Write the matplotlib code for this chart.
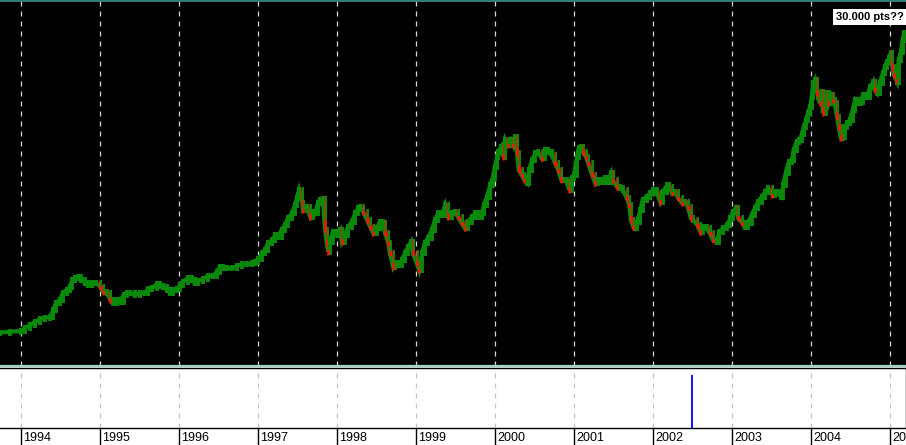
import numpy as np
import matplotlib
matplotlib.use("Agg")
import matplotlib.pyplot as plt
import matplotlib.transforms as mtransforms

# index closes (decimal year, points)
dates = [
    1993.73, 1993.86, 1994.00, 1994.05, 1994.11, 1994.18, 1994.24, 1994.30, 1994.37, 1994.41,
    1994.44, 1994.49, 1994.53, 1994.58, 1994.62, 1994.65, 1994.68, 1994.72, 1994.76, 1994.81,
    1994.85, 1994.90, 1994.95, 1995.00, 1995.04, 1995.09, 1995.13, 1995.16, 1995.22, 1995.25,
    1995.30, 1995.34, 1995.38, 1995.44, 1995.51, 1995.57, 1995.61, 1995.66, 1995.72, 1995.76,
    1995.80, 1995.85, 1995.89, 1995.92, 1995.98, 1996.01, 1996.05, 1996.11, 1996.16, 1996.20,
    1996.24, 1996.30, 1996.37, 1996.43, 1996.48, 1996.52, 1996.56, 1996.61, 1996.67, 1996.73,
    1996.80, 1996.86, 1996.92, 1996.96, 1997.00, 1997.05, 1997.09, 1997.13, 1997.18, 1997.22,
    1997.25, 1997.30, 1997.34, 1997.38, 1997.43, 1997.47, 1997.49, 1997.52, 1997.56, 1997.57,
    1997.62, 1997.66, 1997.70, 1997.72, 1997.76, 1997.78, 1997.82, 1997.85, 1997.87, 1997.89,
    1997.91, 1997.95, 1998.00, 1998.04, 1998.06, 1998.10, 1998.14, 1998.19, 1998.23, 1998.27,
    1998.29, 1998.33, 1998.38, 1998.42, 1998.46, 1998.51, 1998.54, 1998.58, 1998.61, 1998.65,
    1998.67, 1998.71, 1998.73, 1998.77, 1998.82, 1998.86, 1998.90, 1998.94, 1998.96, 1999.01,
    1999.04, 1999.08, 1999.11, 1999.15, 1999.20, 1999.24, 1999.28, 1999.33, 1999.37, 1999.41,
    1999.46, 1999.49, 1999.53, 1999.58, 1999.62, 1999.66, 1999.71, 1999.75, 1999.78, 1999.84,
    1999.86, 1999.90, 1999.94, 1999.97, 2000.00, 2000.03, 2000.04, 2000.08, 2000.10, 2000.13,
    2000.16, 2000.20, 2000.23, 2000.25, 2000.28, 2000.30, 2000.34, 2000.37, 2000.41, 2000.43,
    2000.47, 2000.51, 2000.54, 2000.59, 2000.63, 2000.67, 2000.72, 2000.76, 2000.80, 2000.84,
    2000.86, 2000.91, 2000.94, 2000.97, 2001.00, 2001.04, 2001.06, 2001.09, 2001.11, 2001.15,
    2001.18, 2001.23, 2001.27, 2001.30, 2001.35, 2001.39, 2001.43, 2001.47, 2001.49, 2001.54,
    2001.58, 2001.62, 2001.67, 2001.70, 2001.72, 2001.75, 2001.77, 2001.80, 2001.84, 2001.87,
    2001.92, 2001.96, 2002.00, 2002.05, 2002.09, 2002.13, 2002.18, 2002.20, 2002.24, 2002.28,
    2002.32, 2002.37, 2002.41, 2002.44, 2002.48, 2002.51, 2002.56, 2002.60, 2002.63, 2002.68,
    2002.72, 2002.76, 2002.81, 2002.84, 2002.89, 2002.94, 2002.98, 2003.01, 2003.05, 2003.08,
    2003.13, 2003.16, 2003.20, 2003.25, 2003.29, 2003.33, 2003.38, 2003.42, 2003.46, 2003.51,
    2003.54, 2003.58, 2003.62, 2003.65, 2003.68, 2003.72, 2003.76, 2003.78, 2003.82, 2003.85,
    2003.89, 2003.91, 2003.94, 2003.96, 2003.99, 2004.01, 2004.03, 2004.05, 2004.08, 2004.09,
    2004.11, 2004.14, 2004.15, 2004.19, 2004.22, 2004.25, 2004.28, 2004.30, 2004.33, 2004.35,
    2004.38, 2004.41, 2004.43, 2004.46, 2004.49, 2004.53, 2004.56, 2004.60, 2004.63, 2004.66,
    2004.71, 2004.75, 2004.79, 2004.81, 2004.84, 2004.87, 2004.91, 2004.94, 2004.96, 2004.99,
    2005.01, 2005.03, 2005.05, 2005.08, 2005.09, 2005.11, 2005.14, 2005.16, 2005.18,
]
closes = [
    2830, 2915, 2975, 3230, 3485, 3765, 3995, 4080, 4190, 4760,
    5355, 5610, 6205, 6460, 6740, 7310, 7480, 7565, 7310, 7055,
    6885, 7055, 7055, 6740, 6315, 6205, 5610, 5355, 5610, 5465,
    6035, 6230, 6205, 6035, 6205, 6230, 6545, 6630, 6970, 6800,
    6715, 6460, 6205, 6460, 6545, 6885, 7165, 7455, 7310, 7080,
    7250, 7370, 7650, 7650, 8015, 8440, 8305, 8305, 8305, 8500,
    8645, 8645, 8730, 8865, 9070, 9580, 9860, 10480, 10710, 11135,
    10990, 11560, 11985, 12555, 12980, 13685, 14255, 14960, 13830, 13260,
    13540, 12690, 13115, 12980, 13830, 14110, 14195, 11560, 10430, 9715,
    10565, 11415, 11135, 11560, 10565, 11135, 11840, 12265, 12980, 13405,
    13540, 13115, 12410, 11840, 11280, 11705, 12265, 12130, 11280, 10430,
    9580, 8440, 8730, 8585, 9010, 9580, 10140, 10565, 9580, 8730,
    8160, 9580, 10430, 10855, 11560, 12410, 12980, 12835, 13685, 12690,
    12980, 13115, 12690, 12130, 11705, 12265, 12690, 12980, 12690, 12980,
    13685, 14390, 15385, 15955, 16940, 17790, 18215, 18640, 17790, 19210,
    18785, 19210, 18785, 19490, 18080, 16660, 16235, 15810, 15530, 16660,
    17510, 18080, 18215, 17655, 18360, 18215, 17935, 17230, 16660, 15810,
    15810, 15665, 14960, 15955, 16235, 17790, 18505, 18640, 18215, 17790,
    17230, 16235, 15530, 15810, 15665, 15955, 15665, 16380, 15810, 15240,
    15105, 14960, 14255, 13685, 12410, 11840, 11705, 12265, 13260, 14110,
    14390, 14680, 14960, 14680, 13965, 14815, 15385, 15240, 14680, 14815,
    14255, 13830, 13965, 13540, 12555, 12410, 11985, 11415, 11840, 11705,
    11280, 10710, 10565, 11415, 11705, 11985, 12555, 13115, 13405, 12555,
    12130, 11840, 12130, 12835, 13405, 13965, 14390, 14815, 15105, 14535,
    14815, 14680, 14390, 15385, 16380, 17365, 17510, 18360, 19065, 19210,
    19720, 20340, 20910, 21480, 22040, 22890, 24030, 24310, 23180, 22890,
    22330, 23315, 21480, 23180, 22330, 23035, 22610, 22330, 21190, 20340,
    19355, 19490, 20340, 20630, 20910, 21760, 22610, 22330, 22465, 23035,
    22890, 23740, 24165, 23460, 23180, 24030, 24880, 25440, 25865, 26155,
    26580, 25440, 24735, 24310, 24165, 26010, 26715, 27710, 28280,
]

years = list(range(1994, 2006))
year_labels = [str(y) for y in years]

# lower indicator pane: single spike
spike_dates = [2002.49]
spike_values = [0.88]

note_text = "30.000 pts??"

W, H = 906, 445
fig = plt.figure(figsize=(W / 100, H / 100), dpi=100, facecolor="white")

x0, x1 = 1993.734, 2005.203
green, red = "#0a8a0a", "#ff1010"

# price pane
ax = fig.add_axes([0, 79 / H, 1, 365 / H])
ax.set_facecolor("black")
ax.set_xlim(x0, x1)
ax.set_ylim(0, 31025)
ax.set_xticks([])
ax.set_yticks([])
for s in ["left", "right"]:
    ax.spines[s].set_visible(False)
ax.spines["top"].set_color("#2f7f73")
ax.spines["top"].set_linewidth(1.5)
ax.spines["bottom"].set_color("#9fd3c0")
ax.spines["bottom"].set_linewidth(1.6)

for y in years:
    ax.axvline(y, color="#d8d8d8", lw=0.9, dashes=(4, 4), zorder=1)

c = np.array(closes, dtype=float)
d = np.array(dates)
o = np.r_[c[0], c[:-1]]
pad = 260
lo = np.minimum(o, c) - pad
hi = np.maximum(o, c) + pad
down = (o - c) > 300

# continuous body of the price trace, then the bars on top
ax.plot(d, c, color=green, lw=3.0, solid_joinstyle="miter", zorder=2)
ax.vlines(d[~down], lo[~down], hi[~down], colors=green, lw=2.8, zorder=3)
ax.vlines(d[down], lo[down], hi[down], colors=red, lw=1.8, zorder=4)
ax.vlines(d[down] + 0.014, lo[down] + (hi[down] - lo[down]) * 0.35, hi[down],
          colors=green, lw=1.4, zorder=4)

ax.text(0.998, 0.956, note_text, transform=ax.transAxes, ha="right", va="center",
        fontsize=8, fontweight="bold", family="Liberation Sans", color="black",
        bbox=dict(facecolor="white", edgecolor="none", pad=2.2), zorder=6)

# indicator pane
ax2 = fig.add_axes([0, 17 / H, 1, 60 / H])
ax2.set_facecolor("white")
ax2.set_xlim(x0, x1)
ax2.set_ylim(0, 1)
ax2.set_yticks([])
ax2.spines["left"].set_visible(False)
for s in ["top", "bottom", "right"]:
    ax2.spines[s].set_color("black")
    ax2.spines[s].set_linewidth(1.0)
for y in years:
    ax2.axvline(y, color="#c4c4c4", lw=0.9, dashes=(4, 4), zorder=1)
ax2.vlines(spike_dates, 0, spike_values, colors="#0000ff", lw=1.3, zorder=3)

ax2.set_xticks(years)
ax2.set_xticklabels(year_labels, family="Liberation Sans", fontsize=9)
ax2.tick_params(axis="x", direction="out", length=12.5, width=1.0, color="black", pad=-9.8)
offset = mtransforms.ScaledTranslation(2 / 100, 0, fig.dpi_scale_trans)
for lab in ax2.get_xticklabels():
    lab.set_horizontalalignment("left")
    lab.set_transform(lab.get_transform() + offset)

fig.savefig("out.png", dpi=100, facecolor="white")
